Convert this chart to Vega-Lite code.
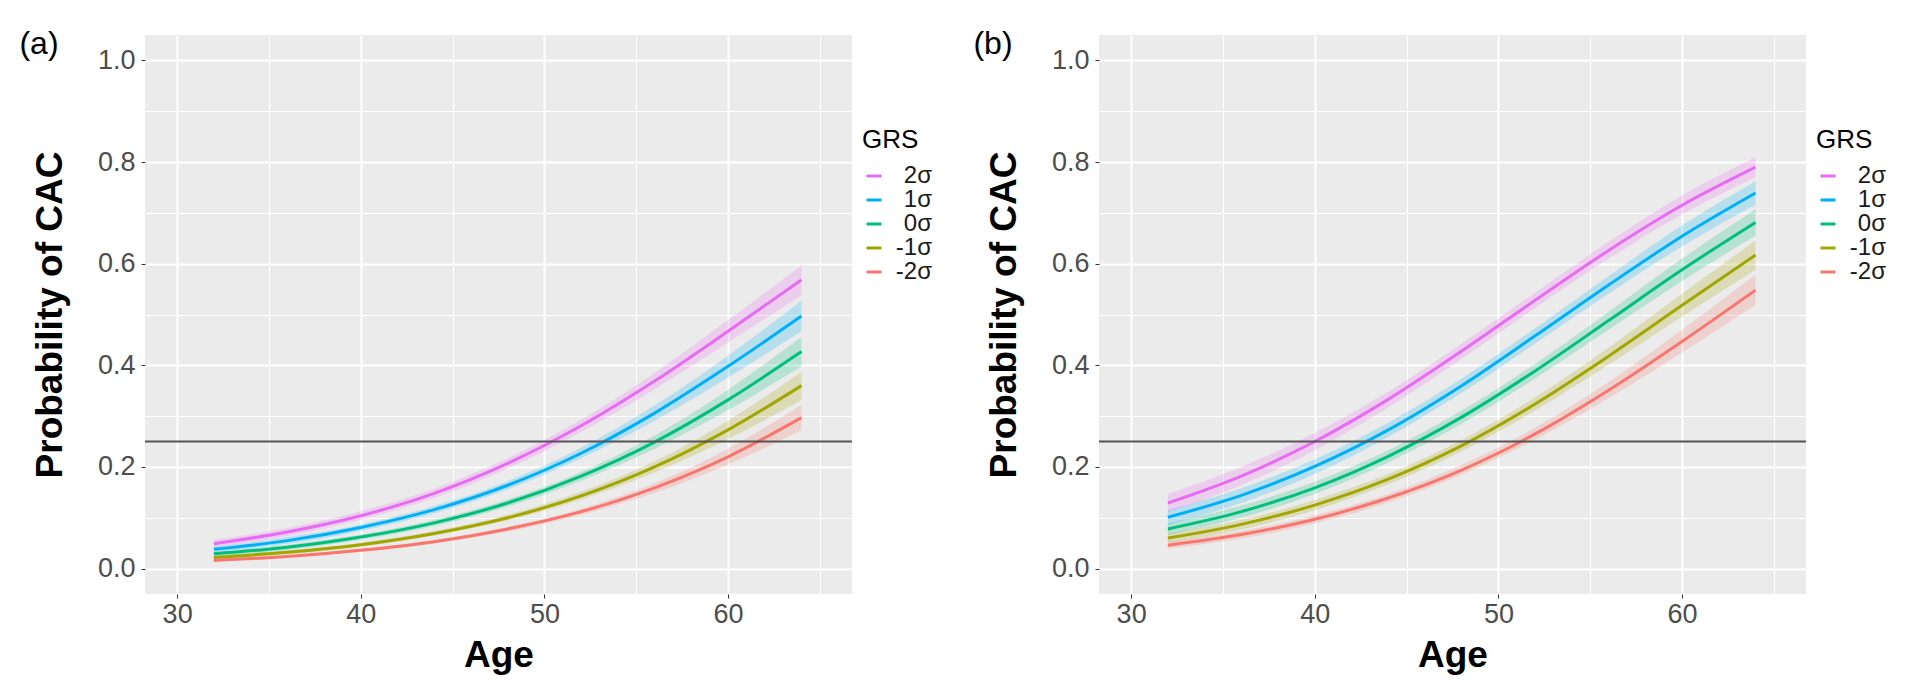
{
  "$schema": "https://vega.github.io/schema/vega-lite/v6.json",
  "background": "white",
  "padding": {"left": 19, "top": 28, "right": 5, "bottom": 5},
  "spacing": 41,
  "datasets": {
    "d": [
      {"s":"a","g":"2σ","a":32,"p":0.049,"lo":0.042,"hi":0.057},
      {"s":"a","g":"2σ","a":36,"p":0.072,"lo":0.064,"hi":0.080},
      {"s":"a","g":"2σ","a":40,"p":0.104,"lo":0.096,"hi":0.113},
      {"s":"a","g":"2σ","a":44,"p":0.148,"lo":0.139,"hi":0.157},
      {"s":"a","g":"2σ","a":48,"p":0.207,"lo":0.197,"hi":0.217},
      {"s":"a","g":"2σ","a":52,"p":0.281,"lo":0.269,"hi":0.293},
      {"s":"a","g":"2σ","a":56,"p":0.369,"lo":0.353,"hi":0.385},
      {"s":"a","g":"2σ","a":60,"p":0.467,"lo":0.445,"hi":0.489},
      {"s":"a","g":"2σ","a":64,"p":0.568,"lo":0.538,"hi":0.597},
      {"s":"a","g":"1σ","a":32,"p":0.038,"lo":0.032,"hi":0.043},
      {"s":"a","g":"1σ","a":36,"p":0.055,"lo":0.049,"hi":0.062},
      {"s":"a","g":"1σ","a":40,"p":0.081,"lo":0.074,"hi":0.087},
      {"s":"a","g":"1σ","a":44,"p":0.116,"lo":0.109,"hi":0.123},
      {"s":"a","g":"1σ","a":48,"p":0.164,"lo":0.156,"hi":0.172},
      {"s":"a","g":"1σ","a":52,"p":0.227,"lo":0.217,"hi":0.238},
      {"s":"a","g":"1σ","a":56,"p":0.306,"lo":0.291,"hi":0.321},
      {"s":"a","g":"1σ","a":60,"p":0.398,"lo":0.376,"hi":0.419},
      {"s":"a","g":"1σ","a":64,"p":0.497,"lo":0.467,"hi":0.527},
      {"s":"a","g":"0σ","a":32,"p":0.029,"lo":0.024,"hi":0.033},
      {"s":"a","g":"0σ","a":36,"p":0.042,"lo":0.037,"hi":0.047},
      {"s":"a","g":"0σ","a":40,"p":0.062,"lo":0.057,"hi":0.067},
      {"s":"a","g":"0σ","a":44,"p":0.090,"lo":0.084,"hi":0.096},
      {"s":"a","g":"0σ","a":48,"p":0.129,"lo":0.122,"hi":0.136},
      {"s":"a","g":"0σ","a":52,"p":0.182,"lo":0.173,"hi":0.190},
      {"s":"a","g":"0σ","a":56,"p":0.249,"lo":0.236,"hi":0.262},
      {"s":"a","g":"0σ","a":60,"p":0.332,"lo":0.312,"hi":0.352},
      {"s":"a","g":"0σ","a":64,"p":0.427,"lo":0.398,"hi":0.456},
      {"s":"a","g":"-1σ","a":32,"p":0.022,"lo":0.018,"hi":0.025},
      {"s":"a","g":"-1σ","a":36,"p":0.032,"lo":0.028,"hi":0.036},
      {"s":"a","g":"-1σ","a":40,"p":0.047,"lo":0.043,"hi":0.051},
      {"s":"a","g":"-1σ","a":44,"p":0.069,"lo":0.065,"hi":0.074},
      {"s":"a","g":"-1σ","a":48,"p":0.100,"lo":0.095,"hi":0.106},
      {"s":"a","g":"-1σ","a":52,"p":0.143,"lo":0.136,"hi":0.151},
      {"s":"a","g":"-1σ","a":56,"p":0.200,"lo":0.189,"hi":0.211},
      {"s":"a","g":"-1σ","a":60,"p":0.273,"lo":0.255,"hi":0.291},
      {"s":"a","g":"-1σ","a":64,"p":0.360,"lo":0.332,"hi":0.387},
      {"s":"a","g":"-2σ","a":32,"p":0.016,"lo":0.014,"hi":0.019},
      {"s":"a","g":"-2σ","a":36,"p":0.024,"lo":0.022,"hi":0.027},
      {"s":"a","g":"-2σ","a":40,"p":0.036,"lo":0.033,"hi":0.039},
      {"s":"a","g":"-2σ","a":44,"p":0.053,"lo":0.050,"hi":0.057},
      {"s":"a","g":"-2σ","a":48,"p":0.078,"lo":0.073,"hi":0.082},
      {"s":"a","g":"-2σ","a":52,"p":0.112,"lo":0.106,"hi":0.118},
      {"s":"a","g":"-2σ","a":56,"p":0.159,"lo":0.149,"hi":0.168},
      {"s":"a","g":"-2σ","a":60,"p":0.220,"lo":0.205,"hi":0.236},
      {"s":"a","g":"-2σ","a":64,"p":0.297,"lo":0.272,"hi":0.322},
      {"s":"b","g":"2σ","a":32,"p":0.129,"lo":0.111,"hi":0.147},
      {"s":"b","g":"2σ","a":36,"p":0.182,"lo":0.164,"hi":0.200},
      {"s":"b","g":"2σ","a":40,"p":0.250,"lo":0.233,"hi":0.267},
      {"s":"b","g":"2σ","a":44,"p":0.333,"lo":0.317,"hi":0.348},
      {"s":"b","g":"2σ","a":48,"p":0.428,"lo":0.413,"hi":0.443},
      {"s":"b","g":"2σ","a":52,"p":0.528,"lo":0.513,"hi":0.543},
      {"s":"b","g":"2σ","a":56,"p":0.626,"lo":0.610,"hi":0.643},
      {"s":"b","g":"2σ","a":60,"p":0.715,"lo":0.697,"hi":0.734},
      {"s":"b","g":"2σ","a":64,"p":0.790,"lo":0.770,"hi":0.810},
      {"s":"b","g":"1σ","a":32,"p":0.101,"lo":0.086,"hi":0.115},
      {"s":"b","g":"1σ","a":36,"p":0.144,"lo":0.129,"hi":0.158},
      {"s":"b","g":"1σ","a":40,"p":0.201,"lo":0.186,"hi":0.215},
      {"s":"b","g":"1σ","a":44,"p":0.273,"lo":0.259,"hi":0.287},
      {"s":"b","g":"1σ","a":48,"p":0.360,"lo":0.346,"hi":0.374},
      {"s":"b","g":"1σ","a":52,"p":0.458,"lo":0.443,"hi":0.473},
      {"s":"b","g":"1σ","a":56,"p":0.558,"lo":0.541,"hi":0.576},
      {"s":"b","g":"1σ","a":60,"p":0.654,"lo":0.634,"hi":0.675},
      {"s":"b","g":"1σ","a":64,"p":0.739,"lo":0.716,"hi":0.762},
      {"s":"b","g":"0σ","a":32,"p":0.078,"lo":0.066,"hi":0.089},
      {"s":"b","g":"0σ","a":36,"p":0.112,"lo":0.100,"hi":0.124},
      {"s":"b","g":"0σ","a":40,"p":0.159,"lo":0.147,"hi":0.171},
      {"s":"b","g":"0σ","a":44,"p":0.221,"lo":0.209,"hi":0.233},
      {"s":"b","g":"0σ","a":48,"p":0.298,"lo":0.285,"hi":0.311},
      {"s":"b","g":"0σ","a":52,"p":0.389,"lo":0.374,"hi":0.403},
      {"s":"b","g":"0σ","a":56,"p":0.488,"lo":0.470,"hi":0.505},
      {"s":"b","g":"0σ","a":60,"p":0.588,"lo":0.566,"hi":0.610},
      {"s":"b","g":"0σ","a":64,"p":0.681,"lo":0.655,"hi":0.707},
      {"s":"b","g":"-1σ","a":32,"p":0.060,"lo":0.051,"hi":0.069},
      {"s":"b","g":"-1σ","a":36,"p":0.087,"lo":0.077,"hi":0.096},
      {"s":"b","g":"-1σ","a":40,"p":0.125,"lo":0.115,"hi":0.135},
      {"s":"b","g":"-1σ","a":44,"p":0.176,"lo":0.166,"hi":0.186},
      {"s":"b","g":"-1σ","a":48,"p":0.242,"lo":0.231,"hi":0.253},
      {"s":"b","g":"-1σ","a":52,"p":0.324,"lo":0.311,"hi":0.337},
      {"s":"b","g":"-1σ","a":56,"p":0.418,"lo":0.401,"hi":0.435},
      {"s":"b","g":"-1σ","a":60,"p":0.518,"lo":0.496,"hi":0.541},
      {"s":"b","g":"-1σ","a":64,"p":0.617,"lo":0.588,"hi":0.645},
      {"s":"b","g":"-2σ","a":32,"p":0.046,"lo":0.039,"hi":0.053},
      {"s":"b","g":"-2σ","a":36,"p":0.067,"lo":0.059,"hi":0.074},
      {"s":"b","g":"-2σ","a":40,"p":0.097,"lo":0.089,"hi":0.105},
      {"s":"b","g":"-2σ","a":44,"p":0.139,"lo":0.130,"hi":0.147},
      {"s":"b","g":"-2σ","a":48,"p":0.194,"lo":0.185,"hi":0.204},
      {"s":"b","g":"-2σ","a":52,"p":0.265,"lo":0.254,"hi":0.277},
      {"s":"b","g":"-2σ","a":56,"p":0.351,"lo":0.335,"hi":0.367},
      {"s":"b","g":"-2σ","a":60,"p":0.447,"lo":0.425,"hi":0.470},
      {"s":"b","g":"-2σ","a":64,"p":0.548,"lo":0.518,"hi":0.578}
    ],
    "ref": [{"v": 0.25}]
  },
  "hconcat": [
    {
      "width": 707,
      "height": 559,
      "title": {"text": "(a)", "anchor": "start", "frame": "bounds", "dx": -12, "dy": 30},
      "layer": [
        {
          "data": {"name": "d"},
          "transform": [{"filter": "datum.s == 'a'"}],
          "mark": {"type": "area", "opacity": 0.22, "interpolate": "monotone"},
          "encoding": {
            "x": {"field": "a", "type": "quantitative", "scale": {"domain": [28.25, 66.75], "nice": false, "zero": false},
              "axis": {"title": "Age", "values": [30, 35, 40, 45, 50, 55, 60, 65],
                "labelExpr": "datum.value % 10 == 0 ? datum.label : ''",
                "gridWidth": {"condition": {"test": "datum.value % 10 == 0", "value": 2}, "value": 1},
                "tickOpacity": {"condition": {"test": "datum.value % 10 == 0", "value": 1}, "value": 0}}},
            "y": {"field": "lo", "type": "quantitative", "scale": {"domain": [-0.05, 1.05], "nice": false, "zero": false},
              "axis": {"title": "Probability of CAC", "values": [0, 0.1, 0.2, 0.3, 0.4, 0.5, 0.6, 0.7, 0.8, 0.9, 1.0], "format": ".1f",
                "labelExpr": "round(datum.value * 10) % 2 == 0 ? datum.label : ''",
                "gridWidth": {"condition": {"test": "round(datum.value * 10) % 2 == 0", "value": 2}, "value": 1},
                "tickOpacity": {"condition": {"test": "round(datum.value * 10) % 2 == 0", "value": 1}, "value": 0}}},
            "y2": {"field": "hi"},
            "color": {"field": "g", "type": "nominal", "scale": {"domain": ["2σ", "1σ", "0σ", "-1σ", "-2σ"], "range": ["#E76BF3", "#00B0F6", "#00BF7D", "#A3A500", "#F8766D"]},
              "legend": {"title": "GRS", "orient": "none", "legendX": 717, "legendY": 92}}
          }
        },
        {
          "data": {"name": "d"},
          "transform": [{"filter": "datum.s == 'a'"}],
          "mark": {"type": "line", "strokeWidth": 3, "interpolate": "monotone"},
          "encoding": {
            "x": {"field": "a", "type": "quantitative", "axis": {"title": "Age"}},
            "y": {"field": "p", "type": "quantitative", "axis": {"title": "Probability of CAC"}},
            "color": {"field": "g", "type": "nominal",
              "legend": {"title": "GRS", "orient": "none", "legendX": 717, "legendY": 92}}
          }
        },
        {
          "data": {"name": "ref"},
          "mark": {"type": "rule", "color": "#555555", "strokeWidth": 2},
          "encoding": {"y": {"field": "v", "type": "quantitative", "axis": {"title": "Probability of CAC"}}}
        }
      ]
    },
    {
      "width": 707,
      "height": 559,
      "title": {"text": "(b)", "anchor": "start", "frame": "bounds", "dx": -12, "dy": 30},
      "layer": [
        {
          "data": {"name": "d"},
          "transform": [{"filter": "datum.s == 'b'"}],
          "mark": {"type": "area", "opacity": 0.22, "interpolate": "monotone"},
          "encoding": {
            "x": {"field": "a", "type": "quantitative", "scale": {"domain": [28.25, 66.75], "nice": false, "zero": false},
              "axis": {"title": "Age", "values": [30, 35, 40, 45, 50, 55, 60, 65],
                "labelExpr": "datum.value % 10 == 0 ? datum.label : ''",
                "gridWidth": {"condition": {"test": "datum.value % 10 == 0", "value": 2}, "value": 1},
                "tickOpacity": {"condition": {"test": "datum.value % 10 == 0", "value": 1}, "value": 0}}},
            "y": {"field": "lo", "type": "quantitative", "scale": {"domain": [-0.05, 1.05], "nice": false, "zero": false},
              "axis": {"title": "Probability of CAC", "values": [0, 0.1, 0.2, 0.3, 0.4, 0.5, 0.6, 0.7, 0.8, 0.9, 1.0], "format": ".1f",
                "labelExpr": "round(datum.value * 10) % 2 == 0 ? datum.label : ''",
                "gridWidth": {"condition": {"test": "round(datum.value * 10) % 2 == 0", "value": 2}, "value": 1},
                "tickOpacity": {"condition": {"test": "round(datum.value * 10) % 2 == 0", "value": 1}, "value": 0}}},
            "y2": {"field": "hi"},
            "color": {"field": "g", "type": "nominal", "scale": {"domain": ["2σ", "1σ", "0σ", "-1σ", "-2σ"], "range": ["#E76BF3", "#00B0F6", "#00BF7D", "#A3A500", "#F8766D"]},
              "legend": {"title": "GRS", "orient": "none", "legendX": 717, "legendY": 92}}
          }
        },
        {
          "data": {"name": "d"},
          "transform": [{"filter": "datum.s == 'b'"}],
          "mark": {"type": "line", "strokeWidth": 3, "interpolate": "monotone"},
          "encoding": {
            "x": {"field": "a", "type": "quantitative", "axis": {"title": "Age"}},
            "y": {"field": "p", "type": "quantitative", "axis": {"title": "Probability of CAC"}},
            "color": {"field": "g", "type": "nominal",
              "legend": {"title": "GRS", "orient": "none", "legendX": 717, "legendY": 92}}
          }
        },
        {
          "data": {"name": "ref"},
          "mark": {"type": "rule", "color": "#555555", "strokeWidth": 2},
          "encoding": {"y": {"field": "v", "type": "quantitative", "axis": {"title": "Probability of CAC"}}}
        }
      ]
    }
  ],
  "resolve": {"legend": {"color": "independent"}},
  "config": {
    "font": "Liberation Sans",
    "view": {"fill": "#EBEBEB", "stroke": null},
    "axis": {
      "domain": false,
      "gridColor": "#FFFFFF",
      "labelFont": "Liberation Sans",
      "labelFontSize": 27,
      "labelColor": "#4D4D4D",
      "labelPadding": 3,
      "tickColor": "#333333",
      "tickSize": 4,
      "titleFont": "Liberation Sans",
      "titleFontSize": 37,
      "titleFontWeight": "bold",
      "titleColor": "#000000"
    },
    "axisY": {"titlePadding": 28, "labelPadding": 6},
    "axisX": {"titlePadding": 10},
    "legend": {
      "titleFont": "Liberation Sans",
      "titleFontSize": 26,
      "titleFontWeight": "normal",
      "titleColor": "#000000",
      "titlePadding": 11,
      "labelFont": "Liberation Sans",
      "labelFontSize": 24,
      "labelColor": "#1A1A1A",
      "labelAlign": "right",
      "labelOffset": 46,
      "symbolType": "stroke",
      "symbolStrokeWidth": 3,
      "symbolSize": 225,
      "symbolOpacity": 1,
      "rowPadding": 0
    },
    "title": {
      "font": "Liberation Sans",
      "fontSize": 32,
      "fontWeight": "normal",
      "color": "#000000"
    }
  }
}
